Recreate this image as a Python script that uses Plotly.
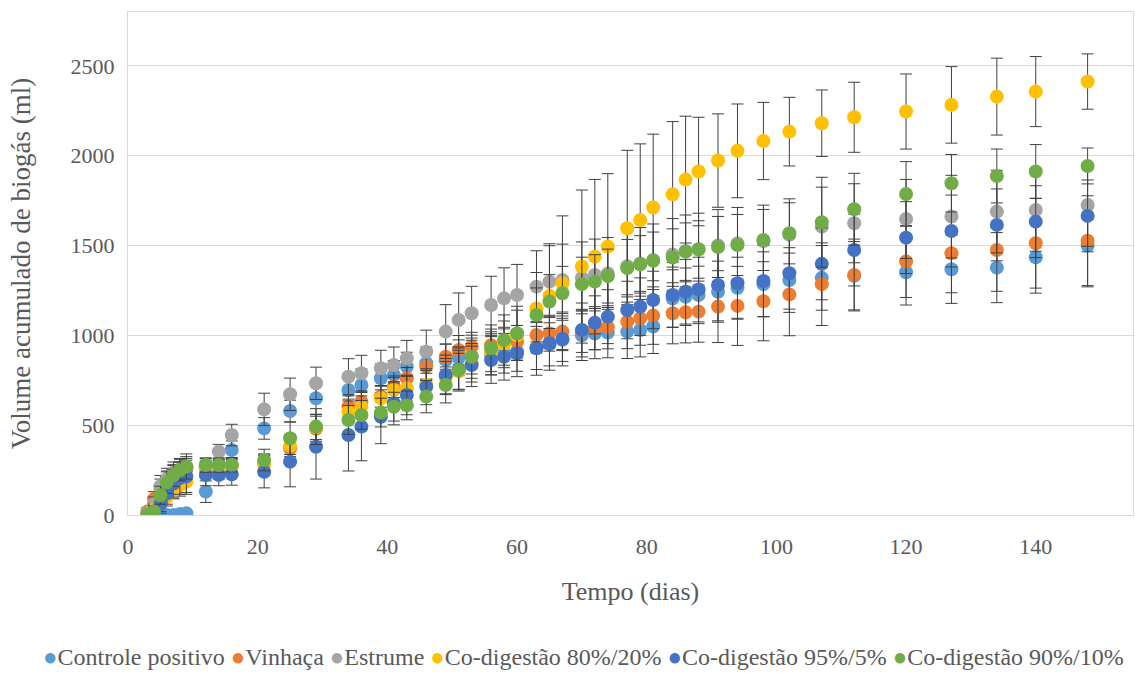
import plotly.graph_objects as go

days = [3, 4, 5, 6, 7, 8, 9, 12, 14, 16, 21, 25, 29, 34, 36, 39, 41, 43, 46, 49, 51, 53,
        56, 58, 60, 63, 65, 67, 70, 72, 74, 77, 79, 81, 84, 86, 88, 91, 94, 98, 102,
        107, 112, 120, 127, 134, 140, 148]

controle = [0, 0, 0, 0, 0, 5, 10, 130, 250, 362, 482, 579, 650, 696, 724, 761, 780, 826,
            845, 862, 875, 885, 890, 900, 910, 930, 950, 975, 1000, 1010, 1015, 1021, 1030,
            1049, 1205, 1215, 1225, 1243, 1265, 1285, 1308, 1320, 1332, 1351, 1368, 1377,
            1435, 1500]
controle_err = [3, 3, 3, 3, 3, 5, 8, 60, 50, 50, 60, 60, 90, 90, 90, 80, 80, 80, 90, 90,
                100, 100, 110, 110, 110, 120, 120, 120, 140, 140, 140, 150, 150, 150, 160,
                160, 160, 170, 170, 180, 180, 180, 190, 182, 190, 195, 200, 230]

vinhaca = [20, 90, 150, 195, 225, 245, 255, 265, 270, 275, 285, 371, 480, 603, 631, 660,
           714, 761, 826, 881, 919, 937, 945, 955, 965, 1002, 1012, 1021, 1025, 1040, 1045,
           1076, 1095, 1110, 1123, 1128, 1132, 1160, 1164, 1190, 1228, 1285, 1336, 1411,
           1457, 1475, 1513, 1527]
vinhaca_err = [20, 40, 50, 50, 50, 50, 50, 40, 40, 40, 50, 60, 70, 60, 60, 60, 60, 60, 70,
               70, 80, 80, 90, 90, 90, 100, 100, 100, 120, 120, 120, 150, 150, 160, 170, 170,
               170, 200, 220, 220, 230, 230, 200, 200, 220, 230, 250, 250]

estrume = [10, 60, 160, 200, 235, 255, 265, 275, 353, 445, 588, 672, 733, 770, 789, 817,
           835, 872, 909, 1021, 1086, 1123, 1169, 1206, 1225, 1271, 1299, 1308, 1320, 1336,
           1345, 1385, 1400, 1420, 1450, 1470, 1480, 1500, 1512, 1525, 1560, 1605, 1624,
           1648, 1661, 1689, 1698, 1726]
estrume_err = [10, 40, 60, 60, 60, 60, 60, 40, 40, 60, 90, 90, 90, 100, 100, 100, 100, 100,
               120, 150, 150, 150, 160, 170, 170, 200, 200, 200, 200, 200, 200, 200, 200,
               200, 200, 200, 200, 200, 200, 200, 200, 220, 220, 220, 230, 230, 230, 230]

cod_80_20 = [0, 30, 60, 100, 140, 165, 185, 255, 262, 268, 280, 385, 490, 575, 603, 650,
             696, 705, 725, 765, 800, 840, 900, 950, 1000, 1150, 1220, 1290, 1383, 1438,
             1494, 1596, 1642, 1712, 1785, 1867, 1912, 1973, 2027, 2082, 2134, 2181, 2214,
             2246, 2283, 2329, 2357, 2413]
cod_80_20_err = [10, 30, 40, 50, 50, 60, 60, 40, 40, 40, 60, 60, 70, 60, 60, 70, 70, 70, 80,
                 90, 100, 100, 120, 130, 140, 200, 290, 375, 426, 430, 406, 434, 424, 408,
                 405, 353, 302, 260, 261, 215, 191, 185, 195, 209, 213, 214, 195, 154]

cod_95_5 = [0, 20, 60, 120, 175, 205, 215, 223, 223, 226, 241, 297, 380, 445, 492, 547,
            622, 668, 714, 780, 810, 835, 863, 881, 900, 928, 956, 980, 1030, 1070, 1104,
            1141, 1160, 1197, 1225, 1243, 1255, 1281, 1290, 1303, 1346, 1398, 1475, 1544,
            1581, 1615, 1633, 1665]
cod_95_5_err = [10, 30, 50, 60, 80, 90, 100, 60, 60, 60, 90, 140, 180, 200, 190, 150, 120,
                110, 100, 110, 120, 120, 130, 130, 130, 150, 150, 150, 150, 150, 150, 160,
                160, 160, 180, 180, 180, 200, 200, 200, 200, 200, 200, 200, 200, 200, 200, 200]

cod_90_10 = [0, 20, 110, 180, 220, 250, 270, 278, 278, 280, 306, 427, 492, 529, 557, 570,
             603, 610, 659, 724, 807, 881, 928, 974, 1012, 1114, 1188, 1234, 1285, 1299,
             1330, 1374, 1395, 1415, 1433, 1466, 1478, 1492, 1503, 1531, 1568, 1630, 1702,
             1787, 1847, 1887, 1912, 1943]
cod_90_10_err = [10, 30, 50, 60, 60, 60, 70, 40, 40, 40, 60, 90, 100, 80, 80, 80, 80, 80,
                 90, 100, 110, 120, 130, 140, 150, 150, 150, 150, 150, 150, 150, 160, 160,
                 160, 160, 160, 160, 170, 170, 170, 170, 250, 200, 180, 160, 150, 150, 100]

names = ["Controle positivo", "Vinhaça", "Estrume", "Co-digestão 80%/20%",
         "Co-digestão 95%/5%", "Co-digestão 90%/10%"]
colors = ["#5B9BD5", "#ED7D31", "#A5A5A5", "#FFC000", "#4472C4", "#70AD47"]
values = [controle, vinhaca, estrume, cod_80_20, cod_95_5, cod_90_10]
errors = [controle_err, vinhaca_err, estrume_err, cod_80_20_err, cod_95_5_err, cod_90_10_err]

FONT = "Liberation Serif"
TXT = "#595959"

fig = go.Figure()
for name, color, vals, errs in zip(names, colors, values, errors):
    fig.add_trace(go.Scatter(
        x=days, y=vals, mode="markers", name=name,
        marker=dict(color=color, size=14),
        error_y=dict(type="data", array=errs, color="#404040", thickness=1, width=6),
    ))

# legend row, built as real text: a coloured bullet before each series name
legend_text = " ".join(
    f"<span style='color:{c}'>●</span>{n}" for n, c in zip(names, colors)
)
fig.add_annotation(
    xref="paper", yref="paper", x=0.4537, y=-0.282,
    xanchor="center", yanchor="middle", showarrow=False,
    text=legend_text, font=dict(family=FONT, size=24, color=TXT),
)

fig.update_layout(
    width=1135, height=673,
    margin=dict(l=128, r=2, t=12, b=158),
    paper_bgcolor="white", plot_bgcolor="white",
    font=dict(family=FONT, color=TXT),
    showlegend=False,
    xaxis=dict(range=[0, 155], tick0=0, dtick=20, showgrid=False,
               showline=True, linecolor="#d9d9d9", mirror=True, zeroline=False,
               ticks="outside", ticklen=12, tickcolor="rgba(0,0,0,0)",
               tickfont=dict(family=FONT, size=22, color=TXT),
               title=dict(text="Tempo (dias)", font=dict(family=FONT, size=26, color=TXT),
                          standoff=23)),
    yaxis=dict(range=[0, 2800], tickvals=[0, 500, 1000, 1500, 2000, 2500],
               showgrid=True, gridcolor="#d9d9d9", gridwidth=1,
               showline=True, linecolor="#d9d9d9", mirror=True, zeroline=False,
               ticks="outside", ticklen=8, tickcolor="rgba(0,0,0,0)",
               tickfont=dict(family=FONT, size=22, color=TXT),
               title=dict(text="Volume acumulado de biogás (ml)",
                          font=dict(family=FONT, size=27, color=TXT), standoff=32)),
)

fig.write_html("out.html")
